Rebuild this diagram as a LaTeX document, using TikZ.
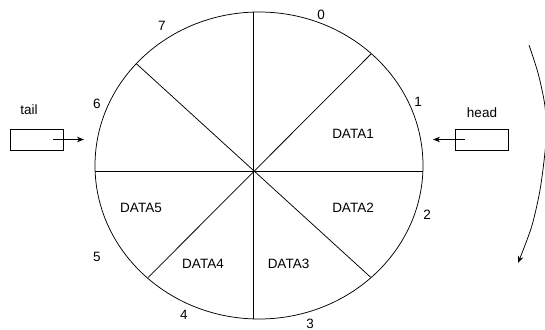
\documentclass[tikz,border=0pt]{standalone}
\usepackage{fontspec}
\setmainfont{Liberation Sans}
\usetikzlibrary{arrows.meta}
\begin{document}
\begin{tikzpicture}[x=1pt,y=-1pt,
  font=\fontsize{13.5}{16}\selectfont,
  line width=0.75pt,
  lbl/.style={inner sep=0pt, anchor=center},
  ptrbox/.style={draw, minimum width=53pt, minimum height=21pt, inner sep=0pt},
  ptrarrow/.style={-{Stealth[length=7pt,width=5.5pt]}}]
\useasboundingbox (0,0) rectangle (545,329);
% ring
\draw (259,165.5) ellipse [x radius=164pt, y radius=153.5pt];
\coordinate (c) at (253,171);
\coordinate (top) at (253,12);
\coordinate (bot) at (253,319);
\coordinate (lft) at (95,171);
\coordinate (rgt) at (423,171);
\coordinate (ul) at (136.7,64);
\coordinate (ur) at (371,54);
\coordinate (ll) at (148.3,277.3);
\coordinate (lr) at (370.7,277.3);
\draw (top) -- (bot);
\draw (lft) -- (rgt);
\draw (ul) -- (lr);
\draw (ur) -- (ll);
% slot numbers
\node[lbl] (n0) at (321,15) {0};
\node[lbl] (n1) at (418,102) {1};
\node[lbl] (n2) at (427,215) {2};
\node[lbl] (n3) at (310,324) {3};
\node[lbl] (n4) at (184,315) {4};
\node[lbl] (n5) at (97,257) {5};
\node[lbl] (n6) at (97,104) {6};
\node[lbl] (n7) at (162,26) {7};
% data
\node[lbl] (d1) at (353,134) {DATA1};
\node[lbl] (d2) at (353,208) {DATA2};
\node[lbl] (d3) at (288.5,264) {DATA3};
\node[lbl] (d4) at (203,264) {DATA4};
\node[lbl] (d5) at (141,208) {DATA5};
% tail pointer
\node[lbl] (tl) at (29,110) {tail};
\node[ptrbox] (tbox) at (36.5,139.5) {};
\coordinate (tstart) at (53,139.5);
\coordinate (tend) at (84,139.5);
\draw[ptrarrow] (tstart) -- (tend);
% head pointer
\node[lbl] (hl) at (482,113) {head};
\node[ptrbox] (hbox) at (481.5,139.5) {};
\coordinate (hstart) at (465,139.5);
\coordinate (hend) at (433,139.5);
\draw[ptrarrow] (hstart) -- (hend);
% rotation arrow
\begin{scope}
\clip (0,0) rectangle (545,329);
\draw[ptrarrow] plot[smooth] coordinates {(529,45) (538,73) (544.5,103) (546.5,128) (545,152) (540,190) (531.5,227) (518,263)};
\end{scope}
\end{tikzpicture}
\end{document}
